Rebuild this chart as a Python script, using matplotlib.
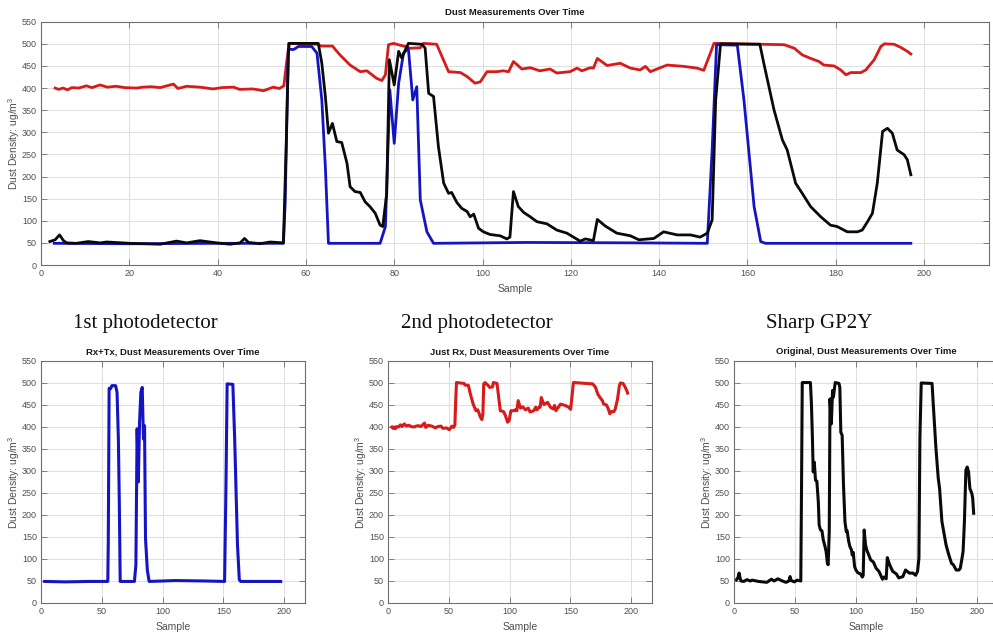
import matplotlib
matplotlib.use("Agg")
import matplotlib.pyplot as plt

plt.rcParams['font.family'] = ['Liberation Sans', 'DejaVu Sans']
plt.rcParams['mathtext.fontset'] = 'custom'
plt.rcParams['mathtext.rm'] = 'Liberation Sans'
plt.rcParams['mathtext.default'] = 'regular'

# Just Rx (red)
sample_rx = [3.2, 4, 5, 6, 7, 8.5, 10.3, 11.5, 13.4, 15, 17, 19, 21.7, 23, 25, 27, 30, 31, 33,
             36, 39, 41, 43.6, 45, 48, 50.4, 52.6, 54, 55, 55.7, 56.3, 62.5, 63.5, 66, 67.7,
             70, 72.3, 73.8, 76, 77.2, 78, 78.7, 79.8, 81.3, 82.5, 83.6, 85.9, 86.6, 89.6,
             91, 92.3, 95, 96.5, 98.3, 99.5, 101, 103.2, 104.7, 105.9, 107, 108.9, 110.8, 113,
             115.3, 116.8, 119.8, 121.4, 122.5, 124.4, 125.1, 126, 128.2, 131.2, 133.5, 135.7,
             136.9, 138, 141.8, 145.6, 148.6, 150.1, 151.6, 152.4, 168.3, 170.6, 172.4, 174.3,
             176.2, 177.3, 179.6, 181.1, 182.3, 183.4, 185.7, 186.8, 188.7, 190.2, 191, 193.2,
             194.7, 196.2, 197]
dust_rx = [400, 397, 400, 396, 401, 400, 405, 401, 407, 402, 404, 401, 400, 402, 403, 401, 409,
           399, 404, 402, 398, 401, 402, 397, 398, 394, 402, 399, 405, 464, 501, 499, 495, 495,
           475, 452, 437, 439, 422, 417, 430, 498, 501, 497, 494, 490, 491, 501, 499,
           467, 437, 435, 426, 411, 414, 437, 437, 439, 437, 460, 443, 446, 439,
           443, 434, 437, 445, 439, 446, 445, 467, 451, 456, 445, 441,
           449, 437, 452, 449, 445, 440, 479, 501, 498, 490, 475, 467,
           460, 452, 450, 441, 430, 435, 435, 441, 464, 494, 500, 499,
           492, 483, 477]

# Rx+Tx (blue)
sample_rxtx = [3, 20, 40, 54.9, 55.3, 56, 57.2, 58.3, 61.3, 62.5, 63.6, 64.4, 65.1, 76.8, 78,
               79, 80, 81, 82.1, 83.2, 84.2, 85.1, 85.9, 87.4, 88.9, 100, 110, 135, 150.9,
               152, 153, 157.7, 159.2, 161.5, 163, 164.1, 197]
dust_rxtx = [49, 48, 49, 49, 140, 488, 487, 494, 494, 479, 373, 222, 49, 49, 87,
             396, 275, 411, 479, 490, 373, 403, 147, 75, 49, 50, 51, 50, 49,
             260, 498, 497, 373, 132, 53, 49, 49]

# Original sensor (black)
sample_orig = [2, 3.2, 4.2, 5.1, 5.8, 8, 10.7, 13.4, 14.9, 20.2, 27, 30.7, 33, 36, 39.8, 42.8,
               45.1, 46.1, 47, 49.6, 51.9, 54.9, 55.5, 56.1, 62.8, 63.6, 64.4, 65.1, 66, 67,
               68.1, 69.3, 70, 71.1, 72.3, 73.4, 74.5, 75.7, 76.8, 77.4, 78.3, 78.9, 80, 81,
               81.7, 82.5, 83.2, 86.3, 87, 87.8, 88.9, 90, 91.2, 92.3, 93, 94.2, 95.3, 96.5,
               97.2, 98, 99.1, 100.2, 101.7, 104, 105.5, 106.2, 107, 108.1, 109.3, 110.8,
               112.3, 114.6, 116.8, 119.1, 122.1, 123.3, 125.1, 126, 127.8, 130.4, 133.5,
               135.4, 138.8, 141, 144.1, 147.1, 149.3, 150.9, 152, 152.8, 153.9, 162.8, 163.7,
               166, 167.9, 169, 170.9, 172.4, 174.3, 176.6, 178.8, 180.3, 182.6, 184.9, 186,
               187.2, 188.3, 189.4, 190.6, 191.7, 192.8, 193.9, 195.5, 196.2, 197]
dust_orig = [53, 57, 68, 55, 50, 49, 53, 50, 52, 49, 47, 54, 50, 55, 50, 47,
             50, 60, 51, 48, 52, 50, 260, 501, 501, 456, 381, 298, 320, 279,
             277, 230, 177, 166, 164, 143, 132, 117, 90, 87, 162, 464, 407, 483,
             468, 486, 501, 499, 490, 388, 381, 268, 185, 162, 164, 141, 128, 121,
             109, 115, 83, 75, 69, 66, 59, 63, 166, 132, 119, 109,
             98, 93, 79, 72, 54, 59, 55, 103, 88, 72, 66,
             57, 60, 75, 68, 68, 63, 72, 102, 373, 500, 499, 456,
             351, 283, 260, 185, 162, 132, 109, 90, 87, 75, 75, 79,
             98, 117, 185, 302, 309, 298, 260, 249, 238, 204]

RED = '#d71a1a'
BLUE = '#1414c4'
BLACK = '#0a0a0a'


def style_axes(ax, title, xticks, xmax):
    ax.set_xlim(0, xmax)
    ax.set_ylim(0, 550)
    ax.set_xticks(xticks)
    ax.set_yticks(range(0, 551, 50))
    ax.grid(True, color='#dedede', linewidth=0.7)
    ax.set_axisbelow(True)
    for sp in ax.spines.values():
        sp.set_color('#6e6e6e')
        sp.set_linewidth(0.8)
    ax.tick_params(direction='in', length=4, width=0.6, color='#6e6e6e',
                   labelsize=6.5, labelcolor='#505050', top=True, right=True, pad=3)
    ax.set_title(title, fontsize=6.8, fontweight='bold', color='#1a1a1a', pad=5)
    ax.set_xlabel('Sample', fontsize=7.5, color='#505050', labelpad=4)
    ax.set_ylabel('Dust Density: ug/m$^3$', fontsize=7.5, color='#505050', labelpad=0)


fig = plt.figure(figsize=(9.93, 6.36), dpi=100)
W, H = 993.0, 636.0

# combined plot
ax = fig.add_axes([41 / W, 1 - 265 / H, 948 / W, 243.3 / H])
ax.plot(sample_rx, dust_rx, color=RED, linewidth=2)
ax.plot(sample_rxtx, dust_rxtx, color=BLUE, linewidth=2)
ax.plot(sample_orig, dust_orig, color=BLACK, linewidth=2)
style_axes(ax, 'Dust Measurements Over Time', range(0, 201, 20), 214.7)

# individual sensors
panels = [
    (41, 'Rx+Tx, Dust Measurements Over Time', sample_rxtx, dust_rxtx, BLUE, '1st photodetector', 145),
    (388, 'Just Rx, Dust Measurements Over Time', sample_rx, dust_rx, RED, '2nd photodetector', 477),
    (734, 'Original, Dust Measurements Over Time', sample_orig, dust_orig, BLACK, 'Sharp GP2Y', 819),
]
for left, title, xs, ys, col, heading, hx in panels:
    a = fig.add_axes([left / W, 1 - 603 / H, 264 / W, 242 / H])
    a.plot(xs, ys, color=col, linewidth=2.2)
    style_axes(a, title, range(0, 201, 50), 217)
    fig.text(hx / W, 1 - 323 / H, heading, ha='center', va='center',
             fontsize=15, family=['Liberation Serif', 'DejaVu Serif'], color='#111111')

fig.savefig('out.png', dpi=100)
